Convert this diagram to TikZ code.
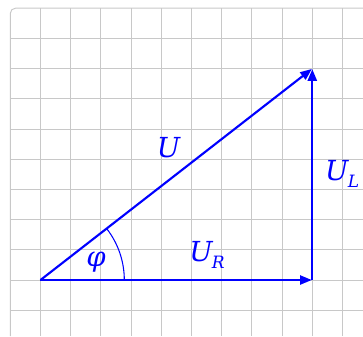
\documentclass[tikz,border=0pt]{standalone}
\usepackage{fontspec}
\setmainfont{DejaVu Serif}
\usetikzlibrary{arrows.meta}
\definecolor{gridc}{RGB}{200,200,200}
\definecolor{vblue}{RGB}{0,0,255}
\tikzset{
  gridline/.style={draw=gridc, line width=0.9pt},
  vec/.style={draw=vblue, line width=2pt, -{Triangle[length=11pt,width=8.5pt]}},
  lbl/.style={text=vblue, font=\fontsize{26}{30}\selectfont\itshape, inner sep=0pt},
  sub/.style={text=vblue, font=\fontsize{16}{18}\selectfont\itshape, inner sep=0pt},
}
\begin{document}
\begin{tikzpicture}
\useasboundingbox (-1.341,-1.854) rectangle (10.679,9.272);
% grid
\foreach \x in {0,...,10} \draw[gridline] (\x,-1.854) -- (\x,9);
\foreach \y in {-1,...,8} \draw[gridline] (-1,\y) -- (10.679,\y);
\draw[gridline, rounded corners=0.17cm] (-1,-1.854) -- (-1,9) -- (10.679,9);
% points
\coordinate (O) at (0,0);
\coordinate (R) at (9,0);
\coordinate (T) at (9,7);
% vectors
\draw[vec, shorten >=0.5pt] (O) -- (R);
\draw[vec, shorten >=0.5pt] (R) -- (T);
\draw[vec, shorten >=0.5pt] (O) -- (T);
% angle arc
\draw[draw=vblue, line width=1pt] (2.775,0) arc[start angle=0, end angle=37.87, radius=2.775];
% labels
\node[lbl, anchor=base west] (lu) at (3.85,4.07) {U};
\node[lbl, anchor=base west] (lur) at (4.92,0.6) {U};
\node[sub, anchor=base west] (lr) at ([xshift=-1pt,yshift=-6pt]lur.base east) {R};
\node[lbl, anchor=base west] (lul) at (9.42,3.31) {U};
\node[sub, anchor=base west] (ll) at ([xshift=-1pt,yshift=-7pt]lul.base east) {L};
\node[lbl] (phi) at (1.84,0.58) {φ};
\end{tikzpicture}
\end{document}
